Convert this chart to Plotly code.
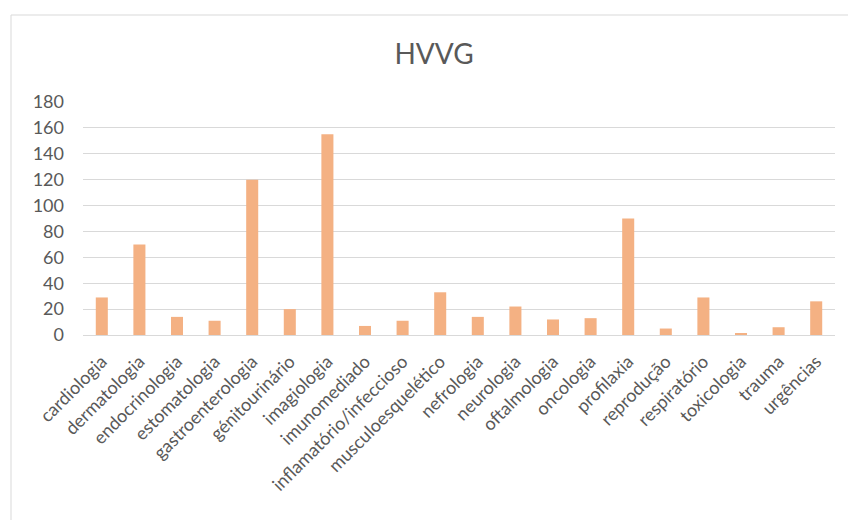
import plotly.graph_objects as go

categories = ["cardiologia", "dermatologia", "endocrinologia", "estomatologia",
              "gastroenterologia", "génitourinário", "imagiologia", "imunomediado",
              "inflamatório/infeccioso", "musculoesquelético", "nefrologia", "neurologia",
              "oftalmologia", "oncologia", "profilaxia", "reprodução", "respiratório",
              "toxicologia", "trauma", "urgências"]
values = [29, 70, 14, 11, 120, 20, 155, 7, 11, 33, 14, 22, 12, 13, 90, 5, 29, 1, 6, 26]
y_ticks = [0, 20, 40, 60, 80, 100, 120, 140, 160, 180]

W, H = 848, 520
L, R, T, B = 83, 13, 102, 185
pw, ph = W - L - R, H - T - B

def px_to_paper_x(px):
    return (px - L) / pw

def px_to_paper_y(py):
    return (H - B - py) / ph

fig = go.Figure()
fig.add_trace(go.Bar(
    x=categories, y=values,
    marker=dict(color="#F4B183", line=dict(width=0)),
))

fig.update_layout(
    width=W, height=H,
    margin=dict(l=L, r=R, t=T, b=B, pad=0),
    paper_bgcolor="white", plot_bgcolor="white",
    bargap=0.68,
    showlegend=False,
    font=dict(family="Lato, Open Sans, sans-serif", color="#595959", size=18),
    title=dict(text="HVVG", x=434 / W, xref="container", xanchor="center",
               y=1 - 54 / H, yref="container", yanchor="middle",
               font=dict(size=28, color="#595959", family="Lato, Open Sans, sans-serif")),
    xaxis=dict(tickangle=-45, showgrid=False, showline=True, linecolor="#d9d9d9",
               linewidth=1, ticks="outside", ticklen=8, tickcolor="rgba(0,0,0,0)",
               tickfont=dict(size=18, color="#595959"), zeroline=False),
    yaxis=dict(range=[0, 180], tickvals=y_ticks, showgrid=True, gridcolor="#d9d9d9",
               gridwidth=1, zeroline=False, showline=False, ticks="",
               ticklabelstandoff=18, tickfont=dict(size=18, color="#595959")),
    shapes=[dict(type="rect", xref="paper", yref="paper",
                 x0=px_to_paper_x(11), x1=px_to_paper_x(870),
                 y0=px_to_paper_y(540), y1=px_to_paper_y(15),
                 line=dict(color="#d9d9d9", width=1), fillcolor="rgba(0,0,0,0)",
                 layer="below")],
)

fig.write_html("out.html")
